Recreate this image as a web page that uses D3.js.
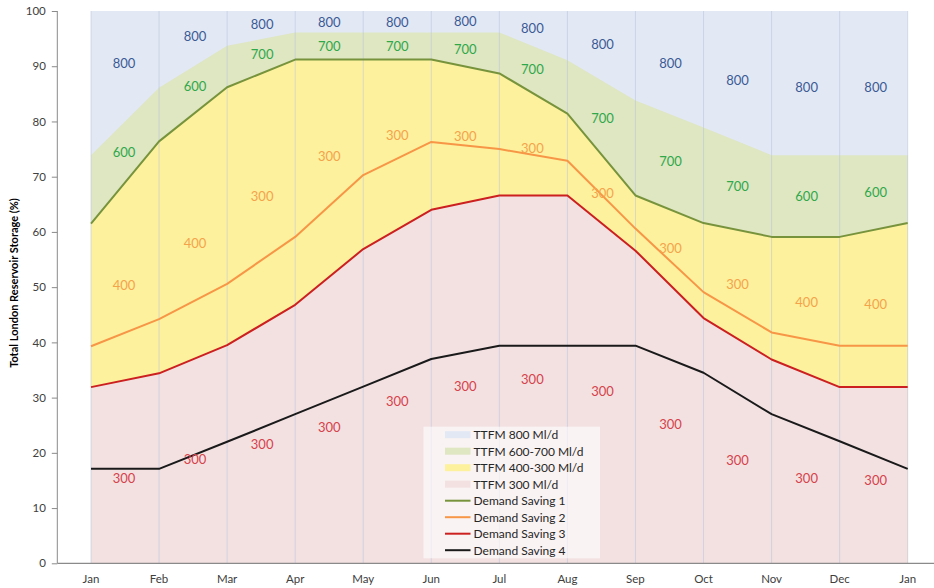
<!DOCTYPE html>
<html><head><meta charset="utf-8">
<script src="https://cdn.jsdelivr.net/npm/d3@7"></script>
<style>
html,body{margin:0;padding:0;background:#fff;}
svg{display:block;font-family:Lato,"Open Sans",sans-serif;}
</style></head>
<body><svg id="chart" width="934" height="588"></svg>
<script>
// ---- data ----
const months = ["Jan","Feb","Mar","Apr","May","Jun","Jul","Aug","Sep","Oct","Nov","Dec","Jan"];
const yTicks = [0,10,20,30,40,50,60,70,80,90,100];
const ttfm800Top = [100,100,100,100,100,100,100,100,100,100,100,100,100];
const ttfm600Top = [73.9,86.1,93.7,96.1,96.1,96.1,96.1,91.1,83.8,78.9,73.9,73.9,73.9];
const demandSaving1 = [61.5,76.4,86.2,91.2,91.2,91.2,88.7,81.4,66.6,61.6,59.1,59.1,61.6];
const demandSaving2 = [39.3,44.2,50.6,59.1,70.3,76.3,75.0,72.9,60.6,49.1,41.8,39.4,39.4];
const demandSaving3 = [31.9,34.4,39.5,46.8,56.9,64.0,66.6,66.6,56.6,44.4,36.9,31.9,31.9];
const demandSaving4 = [17.1,17.1,22.0,27.0,32.0,37.0,39.4,39.4,39.4,34.5,27.0,22.1,17.1];

// zone labels per monthly segment (text, level in %)
const labels800Text = ["800","800","800","800","800","800","800","800","800","800","800","800"];
const labels800Pos  = [90.6,95.4,97.6,98.0,97.9,98.1,96.8,94.0,90.5,87.5,86.1,86.1];
const labelsGreenText = ["600","600","700","700","700","700","700","700","700","700","600","600"];
const labelsGreenPos  = [74.5,86.4,92.2,93.6,93.6,93.0,89.4,80.6,72.7,68.3,66.4,67.2];
const labelsOrangeText = ["400","400","300","300","300","300","300","300","300","300","400","400"];
const labelsOrangePos  = [50.3,58.0,66.4,73.7,77.4,77.3,75.2,67.0,57.0,50.6,47.3,46.9];
const labelsRedText = ["300","300","300","300","300","300","300","300","300","300","300","300"];
const labelsRedPos  = [15.4,18.8,21.5,24.7,29.4,32.1,33.3,31.1,25.2,18.7,15.4,15.0];
const labelOffsets = [-1,2,1,0,0,0,-1,1,1,0,1,2];

const legendNames = ["TTFM 800 Ml/d","TTFM 600-700 Ml/d","TTFM 400-300 Ml/d","TTFM 300 Ml/d",
  "Demand Saving 1","Demand Saving 2","Demand Saving 3","Demand Saving 4"];

// ---- styles ----
const areaColors = {blue:"#E2E8F4", green:"#DEE6C2", yellow:"#FDF19D", pink:"#F3E1E2"};
const lineColors = ["#77933C","#F79646","#CC1F1F","#1A1A1A"];
const labelColors = {blue:"#3B5A94", green:"#2FA84A", orange:"#F5A34B", red:"#D6424A"};

const svg = d3.select("#chart");
const x = d3.scaleLinear().domain([0, months.length-1]).range([91, 907.7]);
const y = d3.scaleLinear().domain([0,100]).range([563.3, 11]);
const idx = d3.range(months.length);

function area(top){ return d3.area().x(i=>x(i)).y0(y(0)).y1(i=>y(top[i]))(idx); }
function line(vals){ return d3.line().x(i=>x(i)).y(i=>y(vals[i]))(idx); }

svg.append("path").attr("d", area(ttfm800Top)).attr("fill", areaColors.blue);
svg.append("path").attr("d", area(ttfm600Top)).attr("fill", areaColors.green);
svg.append("path").attr("d", area(demandSaving1)).attr("fill", areaColors.yellow);
svg.append("path").attr("d", area(demandSaving3)).attr("fill", areaColors.pink);

// vertical gridlines
svg.append("g").selectAll("line").data(idx).join("line")
  .attr("x1", i=>x(i)).attr("x2", i=>x(i)).attr("y1", y(100)).attr("y2", y(0))
  .attr("stroke", "#B8C4D8").attr("stroke-opacity", 0.55).attr("stroke-width", 1);

// demand saving lines (drawn 4 -> 1)
[demandSaving4, demandSaving3, demandSaving2, demandSaving1].forEach((vals, k) => {
  svg.append("path").attr("d", line(vals)).attr("fill","none")
    .attr("stroke", lineColors[3-k]).attr("stroke-width", 2).attr("stroke-linejoin","round");
});

// zone labels
function drawLabels(texts, pos, color){
  svg.append("g").selectAll("text").data(texts).join("text")
    .attr("x", (d,i)=> (x(i)+x(i+1))/2 + labelOffsets[i])
    .attr("y", (d,i)=> y(pos[i]))
    .attr("dy","0.36em").attr("text-anchor","middle")
    .attr("font-size", 13).attr("fill", color).text(d=>d);
}
drawLabels(labels800Text, labels800Pos, labelColors.blue);
drawLabels(labelsGreenText, labelsGreenPos, labelColors.green);
drawLabels(labelsOrangeText, labelsOrangePos, labelColors.orange);
drawLabels(labelsRedText, labelsRedPos, labelColors.red);

// axes
const yAxis = svg.append("g").attr("transform","translate(57.3,0)")
  .call(d3.axisLeft(y).tickValues(yTicks).tickSize(5.5).tickPadding(6));
yAxis.select(".domain").attr("stroke","#8A8A8A").attr("d", `M0,${y(100)}V${y(0)}`);
yAxis.selectAll(".tick line").attr("stroke","#8A8A8A");
yAxis.selectAll("text").attr("font-size", 11.5).attr("fill","#404040").attr("font-family","Lato");

svg.append("line").attr("x1",57.3).attr("x2",934).attr("y1",y(0)).attr("y2",y(0))
  .attr("stroke","#8A8A8A").attr("stroke-width",1.2);

svg.append("g").selectAll("text").data(months).join("text")
  .attr("x",(d,i)=>x(i)).attr("y", 579).attr("dy","0.36em").attr("text-anchor","middle")
  .attr("font-size", 11.5).attr("fill","#404040").text(d=>d);

svg.append("text").attr("transform","translate(14,283) rotate(-90)")
  .attr("text-anchor","middle").attr("dy","0.36em").attr("font-size",11).attr("font-weight","bold")
  .attr("fill","#000").text("Total London Reservoir Storage (%)");

// legend
const lg = svg.append("g").attr("transform","translate(423.5,426.7)");
lg.append("rect").attr("width",176.5).attr("height",131.6).attr("fill","#fff").attr("fill-opacity",0.6);
const swatchFills = [areaColors.blue, areaColors.green, areaColors.yellow, areaColors.pink];
legendNames.forEach((name, i) => {
  const cy = 8 + i*16.5;
  if (i < 4) {
    lg.append("rect").attr("x",21.5).attr("y",cy-3.5).attr("width",25.5).attr("height",7).attr("fill",swatchFills[i]);
  } else {
    lg.append("line").attr("x1",21.5).attr("x2",47).attr("y1",cy).attr("y2",cy)
      .attr("stroke",lineColors[i-4]).attr("stroke-width",2);
  }
  lg.append("text").attr("x",50).attr("y",cy).attr("dy","0.36em").attr("font-size",12)
    .attr("fill","#262626").text(name);
});
</script></body></html>
